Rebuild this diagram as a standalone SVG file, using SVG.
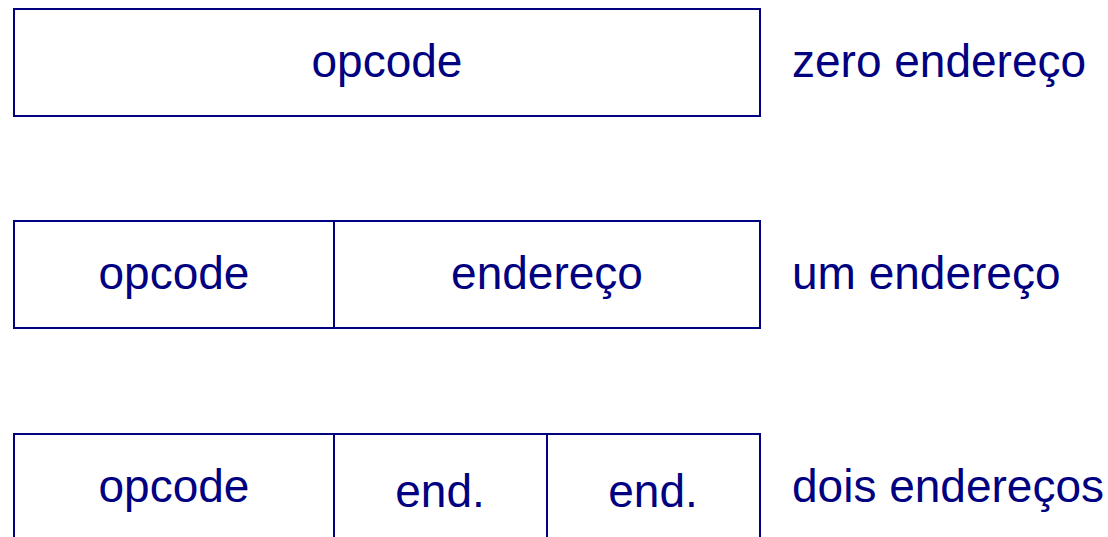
<svg xmlns="http://www.w3.org/2000/svg" width="1108" height="537" viewBox="0 0 1108 537">
<style>
.box{fill:none;stroke:#000080;stroke-width:2}
.div{stroke:#000080;stroke-width:2}
text{font-family:"Liberation Sans",Arial,sans-serif;font-size:46px;fill:#000080}
.c{text-anchor:middle}
</style>
<rect width="1108" height="537" fill="#fff"/>
<g id="row-zero">
<rect class="box" x="14" y="9" width="746" height="107"/>
<text class="c" x="387" y="77">opcode</text>
<text x="792" y="77">zero endereço</text>
</g>
<g id="row-um">
<rect class="box" x="14" y="221" width="746" height="107"/>
<line class="div" x1="334" y1="221" x2="334" y2="328"/>
<text class="c" x="174" y="289">opcode</text>
<text class="c" x="547" y="289">endereço</text>
<text x="792" y="289">um endereço</text>
</g>
<g id="row-dois">
<rect class="box" x="14" y="434" width="746" height="120"/>
<line class="div" x1="334" y1="434" x2="334" y2="554"/>
<line class="div" x1="547" y1="434" x2="547" y2="554"/>
<text class="c" x="174" y="502">opcode</text>
<text class="c" x="440" y="507">end.</text>
<text class="c" x="653" y="507">end.</text>
<text x="792" y="502">dois endereços</text>
</g>
<g id="connectors"></g>
</svg>
